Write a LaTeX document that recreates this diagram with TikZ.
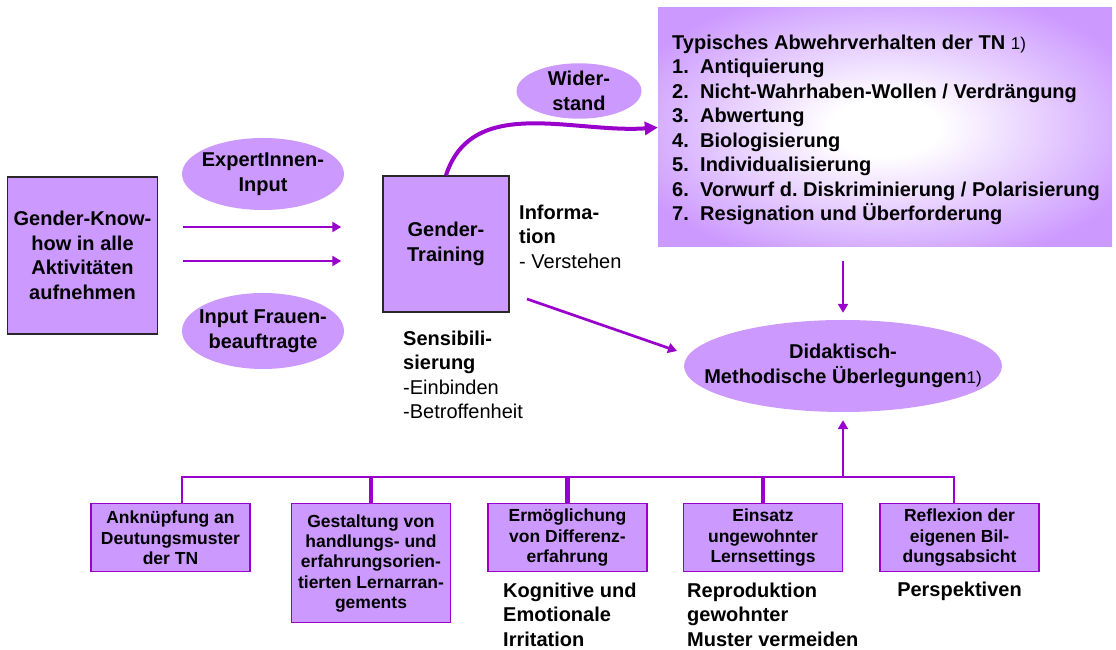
\documentclass[tikz,border=0pt]{standalone}
\usepackage{fontspec}
\setmainfont{Liberation Sans}
\usetikzlibrary{arrows.meta,shapes.geometric,positioning}

\definecolor{lila}{RGB}{204,153,255}
\definecolor{violett}{RGB}{153,0,204}
\definecolor{rand}{RGB}{40,40,40}
\pgfdeclareradialshading{abwehrschatten}{\pgfpointorigin}{color(0bp)=(white); color(6bp)=(white); color(30bp)=(lila); color(50bp)=(lila)}

\newcommand{\gross}{\fontsize{20}{24.5}\selectfont}
\newcommand{\klein}{\fontsize{17.5}{20.3}\selectfont}
\newcommand{\fn}{\mdseries\fontsize{17}{24.5}\selectfont}
\newcommand{\nr}[1]{\makebox[28pt][l]{#1}}
\frenchspacing

\begin{document}
\begin{tikzpicture}[x=1pt,y=1pt,>={Triangle[length=9pt,width=10pt]},
  box/.style={draw=rand,line width=1.5pt,fill=lila,align=center,font=\gross\bfseries,inner sep=0pt},
  oval/.style={ellipse,fill=lila,align=center,font=\gross\bfseries,inner xsep=-40pt,inner ysep=0pt},
  unten/.style={draw=violett,line width=1.5pt,fill=lila,align=center,font=\klein\bfseries,
    minimum width=159pt,anchor=north,inner sep=0pt},
  notiz/.style={align=left,font=\gross,anchor=north west,inner sep=0pt},
  pfeil/.style={->,draw=violett,line width=2.7pt},
  linie/.style={draw=violett,line width=2.7pt}]
  \useasboundingbox (0,0) rectangle (1116,650);

  % obere Reihe
  \node[box,minimum width=150pt,minimum height=157pt] (know) at (82.5,394.5)
    {Gender-Know-\\how in alle\\Aktivitäten\\aufnehmen};
  \node[box,minimum width=126pt,minimum height=136pt] (gt) at (446,406) {Gender-\\Training};
  \node[oval,minimum width=162pt,minimum height=72pt] (expert) at (263,476) {ExpertInnen-\\Input};
  \node[oval,minimum width=162pt,minimum height=76pt] (frau) at (263,319) {Input Frauen-\\beauftragte};
  \node[oval,minimum width=125pt,minimum height=54pt] (wider) at (579,559) {Wider-\\stand};
  \node[shading=abwehrschatten,minimum width=454pt,minimum height=239pt,inner sep=0pt] (abwehr) at (885,522.5) {};
  \node[notiz,font=\gross\bfseries] (typ) at (672,615.5)
    {Typisches Abwehrverhalten der TN {\fn 1)}\\
     \nr{1.}Antiquierung\\
     \nr{2.}Nicht-Wahrhaben-Wollen / Verdrängung\\
     \nr{3.}Abwertung\\
     \nr{4.}Biologisierung\\
     \nr{5.}Individualisierung\\
     \nr{6.}Vorwurf d. Diskriminierung / Polarisierung\\
     \nr{7.}Resignation und Überforderung};
  \node[oval,minimum width=318pt,minimum height=92pt] (dida) at (843,284)
    {Didaktisch-\\Methodische Überlegungen{\fn 1)}};

  \node[notiz] (info) at (519,445.6) {\textbf{Informa-}\\\textbf{tion}\\- Verstehen};
  \node[notiz] (sensi) at (403,319.6) {\textbf{Sensibili-}\\\textbf{sierung}\\-Einbinden\\-Betroffenheit};

  % untere Reihe
  \node[unten,minimum height=68pt] (b1) at (170.5,147) {Anknüpfung an\\Deutungsmuster\\der TN};
  \node[unten,minimum height=119pt] (b2) at (371,147)
    {Gestaltung von\\handlungs- und\\erfahrungsorien-\\tierten Lernarran-\\gements};
  \node[unten,minimum height=68pt,anchor=north west] (b3) at ([xshift=36pt]b2.north east)
    {Ermöglichung\\von Differenz-\\erfahrung};
  \node[unten,minimum height=68pt,anchor=north west] (b4) at ([xshift=35pt]b3.north east)
    {Einsatz\\ungewohnter\\Lernsettings};
  \node[unten,minimum height=68pt,anchor=north west] (b5) at ([xshift=36pt]b4.north east)
    {Reflexion der\\eigenen Bil-\\dungsabsicht};

  \node[notiz,font=\gross\bfseries] (irri) at (503,67.5) {Kognitive und\\Emotionale\\Irritation};
  \node[notiz,font=\gross\bfseries] (repro) at (687,67.5) {Reproduktion\\gewohnter\\Muster vermeiden};
  \node[font=\gross\bfseries,inner sep=0pt,below=9pt of b5] (persp) {Perspektiven};

  % Verbindungen
  \coordinate (k1) at (182,173);
  \coordinate (k5) at (954,173);
  \coordinate (mitte) at (843,173);
  \coordinate (d1) at (527,351);
  \coordinate (d2) at (677,299);

  \draw[pfeil,shorten <=25pt,shorten >=41pt] (know.east |- 0,423) -- (gt.west |- 0,423);
  \draw[pfeil,shorten <=25pt,shorten >=41pt] (know.east |- 0,389) -- (gt.west |- 0,389);
  \draw[pfeil,line width=4pt,-{Triangle[length=13pt,width=13pt]}] (gt.north) to[out=72,in=184] (abwehr.west);
  \draw[pfeil] (d1) -- (d2);
  \draw[pfeil,shorten <=14pt,shorten >=7pt] (dida.north |- abwehr.south) -- (dida.north);
  \draw[pfeil,shorten >=8pt] (mitte) -- (dida.south);

  \draw[linie] (k1 |- b1.north) -- (k1) -- (k5) -- (k5 |- b5.north);
  \draw[linie,line width=4.5pt] (b2.north) -- (b2.north |- k1);
  \draw[linie,line width=4.5pt] (b3.north) -- (b3.north |- k1);
  \draw[linie,line width=4.5pt] (b4.north) -- (b4.north |- k1);
\end{tikzpicture}
\end{document}
